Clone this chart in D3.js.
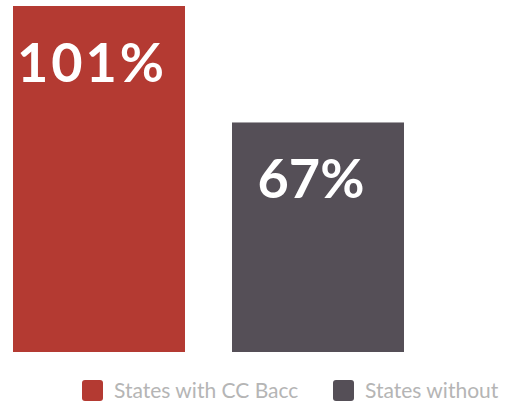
<!DOCTYPE html>
<html>
<head>
<meta charset="utf-8">
<script src="https://cdn.jsdelivr.net/npm/d3@7"></script>
<style>
html,body{margin:0;padding:0;background:#fff;}
svg{display:block;}
</style>
</head>
<body>
<svg id="chart" width="505" height="403"></svg>
<script>
const categories = ["States with CC Bacc", "States without"];
const values = [101, 67];
const labels = ["101%", "67%"];
const colors = ["#b43a32", "#554f57"];

const svg = d3.select("#chart");
const x = d3.scaleBand().domain(categories).range([13, 404]).paddingInner(0.2146).paddingOuter(0);
const y = d3.scaleLinear().domain([0, 101]).range([352, 6]);

svg.selectAll("rect.bar").data(categories).enter().append("rect")
  .attr("class", "bar")
  .attr("x", d => x(d))
  .attr("width", x.bandwidth())
  .attr("y", (d, i) => y(values[i]))
  .attr("height", (d, i) => y(0) - y(values[i]))
  .attr("fill", (d, i) => colors[i]);

svg.selectAll("text.val").data(categories).enter().append("text")
  .attr("class", "val")
  .attr("x", d => x(d) + x.bandwidth() / 2 - 7)
  .attr("y", (d, i) => y(values[i]) + 76)
  .attr("text-anchor", "middle")
  .attr("font-family", "Lato, sans-serif")
  .attr("font-weight", "bold")
  .attr("font-size", 54)
  .attr("letter-spacing", (d, i) => labels[i].length > 3 ? 3 : 0)
  .attr("fill", "#fff")
  .text((d, i) => labels[i]);

const legendX = [82, 333];
const lg = svg.selectAll("g.leg").data(categories).enter().append("g")
  .attr("class", "leg")
  .attr("transform", (d, i) => `translate(${legendX[i]},380)`);
lg.append("rect").attr("width", 21).attr("height", 21).attr("rx", 3)
  .attr("fill", (d, i) => colors[i]);
lg.append("text").attr("x", 32).attr("y", 18)
  .attr("font-family", "Lato, sans-serif")
  .attr("font-size", 21)
  .attr("fill", "#b5b5b5")
  .text(d => d);
</script>
</body>
</html>
